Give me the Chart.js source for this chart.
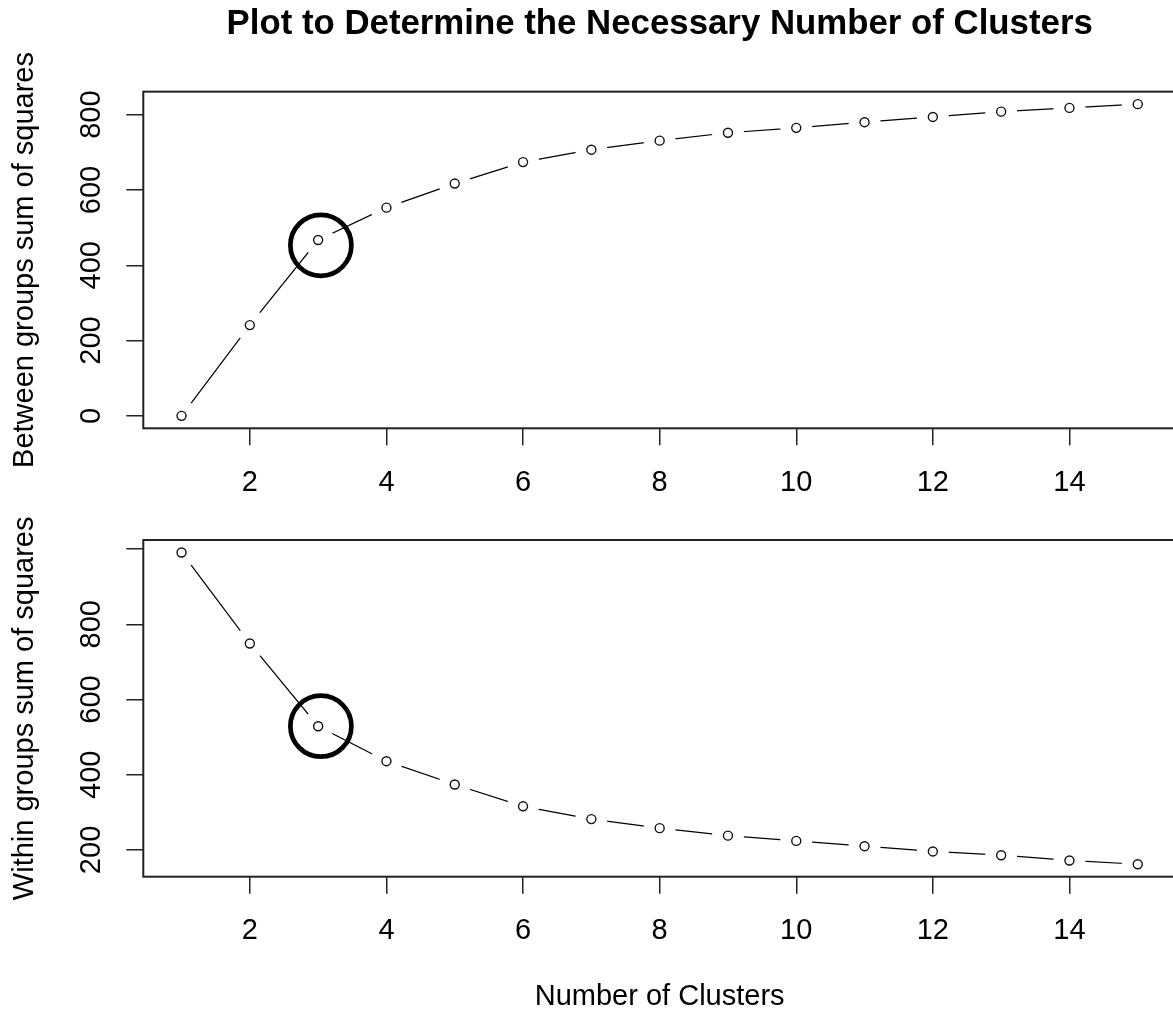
<!DOCTYPE html>
<html>
<head>
<meta charset="utf-8">
<script src="https://cdn.jsdelivr.net/npm/chart.js@4.4.1/dist/chart.umd.min.js"></script>
<style>
  body { margin: 0; background: #fff; }
  #wrap { position: relative; width: 1173px; height: 1014px; overflow: hidden; background: #fff; }
  #wrap canvas { position: absolute; left: 0; }
  #topChart { top: 0; }
  #bottomChart { top: 500px; }
</style>
</head>
<body>
<div id="wrap">
  <canvas id="topChart" width="1180" height="500"></canvas>
  <canvas id="bottomChart" width="1180" height="514"></canvas>
</div>
<script>
// values
var clusters = [1, 2, 3, 4, 5, 6, 7, 8, 9, 10, 11, 12, 13, 14, 15];
var betweenSS = [0, 241, 467, 553, 617, 674, 707, 731, 752, 765, 780, 794, 808, 818, 828];
var withinSS = [991, 749, 529, 436, 374, 316, 282, 258, 238, 224, 210, 196, 186, 172, 162];

var xTicks = [2, 4, 6, 8, 10, 12, 14];
var betweenTicks = [0, 200, 400, 600, 800];
var betweenTickLabels = ['0', '200', '400', '600', '800'];
var withinTicks = [200, 400, 600, 800, 1000];
var withinTickLabels = ['200', '400', '600', '800', ''];

// the hand drawn rings around k = 3
var ringX = [3.04];
var ringBetween = [453];
var ringWithin = [529];

Chart.defaults.font.family = '"Liberation Sans", Arial, sans-serif';
Chart.defaults.color = '#000';

var FONT = 29;

// R style axis range: data range plus 4% each side
var paddedRange = function(arr){
    var lo = Math.min.apply(null, arr);
    var hi = Math.max.apply(null, arr);
    var pad = (hi - lo) * 0.04;
    return [lo - pad, hi + pad];
}

var toPoints = function(xs, ys){
    var pts = [];
    for (var i = 0; i < xs.length; i++) {
        pts.push({x: xs[i], y: ys[i]});
    }
    return pts;
}

var boxPlugin = {
    id: 'box',
    afterDraw: function(chart){
        var a = chart.chartArea;
        var ctx = chart.ctx;
        ctx.save();
        ctx.strokeStyle = '#222';
        ctx.lineWidth = 2;
        ctx.strokeRect(a.left, a.top, a.right - a.left, a.bottom - a.top);
        ctx.restore();
    }
};

// no label overhang padding, the plot box is fixed
var noPadding = function(scale){
    scale.paddingLeft = 0;
    scale.paddingRight = 0;
    scale.paddingTop = 0;
    scale.paddingBottom = 0;
}

var makePanel = function(canvasId, values, yTicks, yLabels, yTitle, ring, opts){
    var xr = paddedRange(clusters);
    var yr = paddedRange(values);

    var data = {
        datasets: [{
            // line with white discs at the points -> gaps like type="b"
            data: toPoints(clusters, values),
            borderColor: '#000',
            borderWidth: 1.2,
            pointRadius: 16,
            pointBackgroundColor: '#fff',
            pointBorderWidth: 0,
            pointBorderColor: 'rgba(0,0,0,0)',
            tension: 0,
            order: 3
        }, {
            data: toPoints(clusters, values),
            showLine: false,
            pointRadius: 4.5,
            pointBorderWidth: 1.4,
            pointBorderColor: '#111',
            pointBackgroundColor: 'rgba(0,0,0,0)',
            order: 2
        }, {
            data: toPoints(ringX, ring),
            showLine: false,
            pointRadius: 30.5,
            pointBorderWidth: 4.7,
            pointBorderColor: '#000',
            pointBackgroundColor: 'rgba(0,0,0,0)',
            order: 1
        }]
    };

    var config = {
        type: 'line',
        data: data,
        plugins: [boxPlugin],
        options: {
            responsive: false,
            animation: false,
            devicePixelRatio: 1,
            layout: {
                autoPadding: false,
                padding: { top: opts.padTop, right: 4, left: 0, bottom: 0 }
            },
            plugins: {
                legend: { display: false },
                tooltip: { enabled: false },
                title: {
                    display: opts.title !== '',
                    text: opts.title,
                    fullSize: false,
                    color: '#000',
                    font: { size: 34.8, weight: 'bold' },
                    padding: { top: 3.6, bottom: 46.3 }
                }
            },
            scales: {
                x: {
                    type: 'linear',
                    min: xr[0],
                    max: xr[1],
                    afterBuildTicks: function(scale){
                        scale.ticks = xTicks.map(function(v){ return {value: v}; });
                    },
                    afterFit: function(scale){
                        scale.height = opts.xHeight;
                        noPadding(scale);
                    },
                    grid: { drawOnChartArea: false, drawTicks: true, tickLength: 17, color: '#222', lineWidth: 1.5 },
                    border: { display: false },
                    ticks: { autoSkip: false, maxRotation: 0, padding: 19.8, font: { size: FONT } },
                    title: {
                        display: opts.xTitle !== '',
                        text: opts.xTitle,
                        font: { size: FONT },
                        padding: { top: 0, bottom: 0 }
                    }
                },
                y: {
                    type: 'linear',
                    min: yr[0],
                    max: yr[1],
                    afterBuildTicks: function(scale){
                        scale.ticks = yTicks.map(function(v){ return {value: v}; });
                    },
                    afterFit: function(scale){
                        scale.width = 143.3;
                        noPadding(scale);
                    },
                    grid: { drawOnChartArea: false, drawTicks: true, tickLength: 17, color: '#222', lineWidth: 1.5 },
                    border: { display: false },
                    ticks: {
                        autoSkip: false,
                        minRotation: 90,
                        maxRotation: 90,
                        crossAlign: 'center',
                        padding: 10.6,
                        font: { size: FONT },
                        callback: function(value, index){ return yLabels[index]; }
                    },
                    title: {
                        display: true,
                        text: yTitle,
                        font: { size: FONT },
                        padding: { top: 7.6, bottom: 0 }
                    }
                }
            }
        }
    };

    return new Chart(document.getElementById(canvasId), config);
}

makePanel('topChart', betweenSS, betweenTicks, betweenTickLabels, 'Between groups sum of squares', ringBetween,
    { title: 'Plot to Determine the Necessary Number of Clusters', xTitle: '', padTop: 0, xHeight: 71.7 });

makePanel('bottomChart', withinSS, withinTicks, withinTickLabels, 'Within groups sum of squares', ringWithin,
    { title: '', xTitle: 'Number of Clusters', padTop: 40, xHeight: 137.3 });
</script>
</body>
</html>
